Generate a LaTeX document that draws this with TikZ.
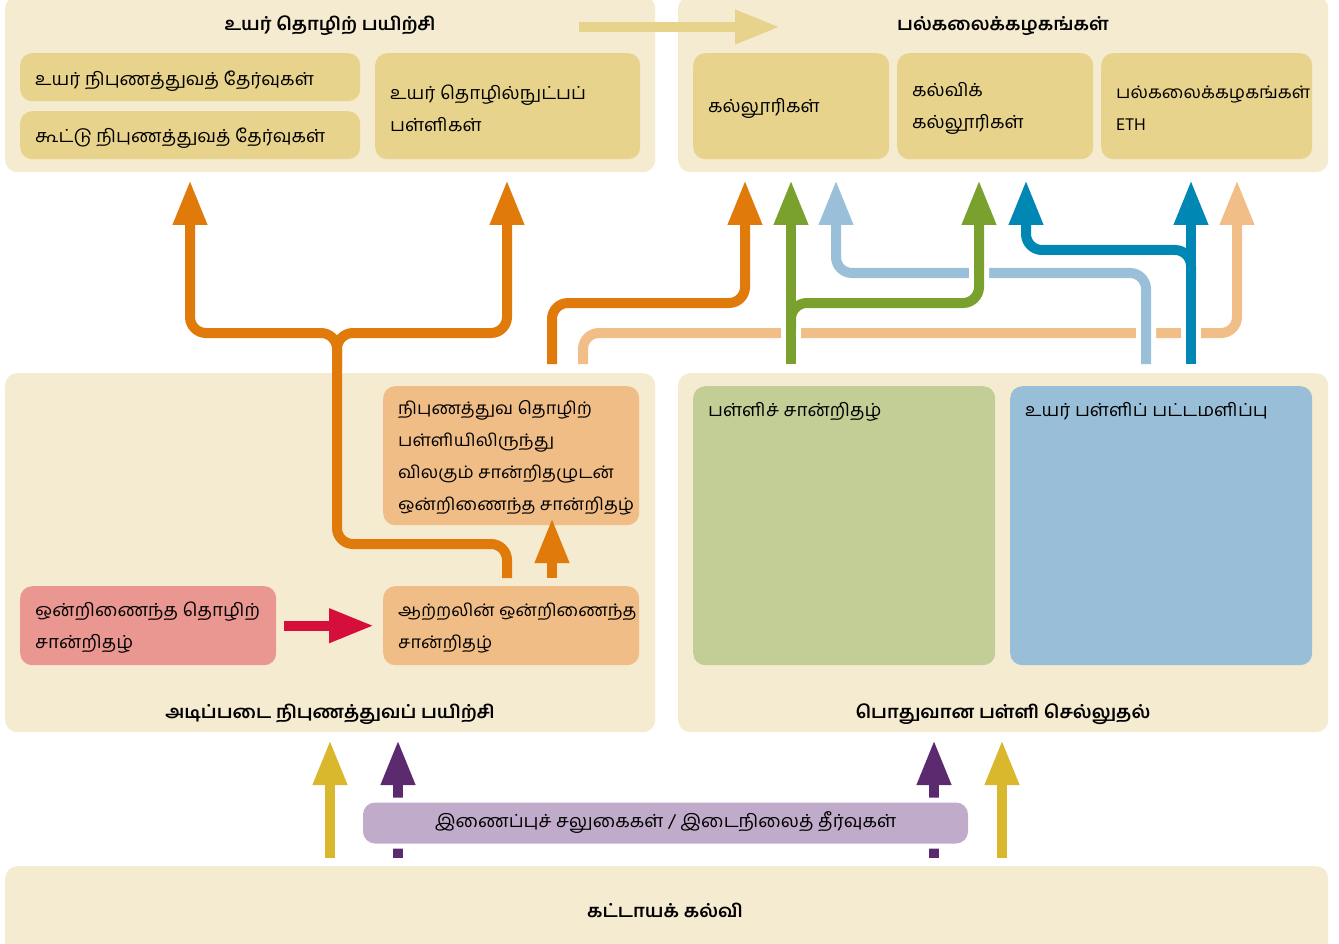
\documentclass[tikz,border=0pt]{standalone}
\usepackage{fontspec}
\setmainfont[Script=Tamil, FakeStretch=1.05]{Hind Madurai}
\usetikzlibrary{arrows.meta}
\definecolor{panelc}{HTML}{F5EBD1}
\definecolor{khaki}{HTML}{E7D38B}
\definecolor{pinkbox}{HTML}{EA9791}
\definecolor{peachbox}{HTML}{F0BD87}
\definecolor{greenbox}{HTML}{C3CD96}
\definecolor{bluebox}{HTML}{99BFD8}
\definecolor{purplebox}{HTML}{C1ABCB}
\definecolor{orangeline}{HTML}{E07B0B}
\definecolor{peachline}{HTML}{F1BE88}
\definecolor{greenline}{HTML}{7AA02E}
\definecolor{lblueline}{HTML}{9AC0D9}
\definecolor{dblueline}{HTML}{0087B3}
\definecolor{crimsonline}{HTML}{D60E3C}
\definecolor{yellowline}{HTML}{D9B82E}
\definecolor{purpleline}{HTML}{5B2A6F}
\newcommand{\boxfont}{\fontsize{18}{32}\selectfont}
\newcommand{\smallboxfont}{\fontsize{17.3}{32}\selectfont}
\newcommand{\ttlfont}{\fontsize{18}{32}\selectfont\bfseries}
\begin{document}
\begin{tikzpicture}[x=1pt,y=-1pt,
  panel/.style={fill=panelc, rounded corners=12pt, anchor=north west, inner sep=0pt},
  box/.style={rounded corners=12pt, anchor=north west, inner sep=0pt},
  txt/.style={inner sep=0pt, font=\boxfont, align=left, anchor=west},
  ttl/.style={font=\ttlfont, inner sep=0pt},
  flow/.style={line width=10pt, rounded corners=16pt},
  tipped/.style={-{Triangle[width=32pt,length=45pt]}},
  casing/.style={white, line width=20pt, rounded corners=16pt},
]
\useasboundingbox (0,0) rectangle (1339,944);
\clip (0,0) rectangle (1339,944);

% panels
\node[panel, minimum width=650pt, minimum height=176pt] (ptl) at (5,-4) {};
\node[panel, minimum width=650pt, minimum height=176pt] (ptr) at (678,-4) {};
\node[panel, minimum width=650pt, minimum height=359pt] (pml) at (5,373) {};
\node[panel, minimum width=650pt, minimum height=359pt] (pmr) at (678,373) {};
\node[panel, minimum width=1323pt, minimum height=100pt] (pbot) at (5,866) {};

% titles
\node[ttl] (t1) at (330,26) {உயர் தொழிற் பயிற்சி};
\node[ttl] (t2) at (1003,26) {பல்கலைக்கழகங்கள்};
\node[ttl] (t3) at (330,714) {அடிப்படை நிபுணத்துவப் பயிற்சி};
\node[ttl] (t4) at (1003,714) {பொதுவான பள்ளி செல்லுதல்};
\node[ttl] (t5) at (665,910) {கட்டாயக் கல்வி};

% top boxes
\node[box, fill=khaki, minimum width=340pt, minimum height=48pt] (hpe) at (20,53) {};
\node[box, fill=khaki, minimum width=340pt, minimum height=48pt] (jpe) at (20,111) {};
\node[box, fill=khaki, minimum width=265pt, minimum height=106pt] (hts) at (375,53) {};
\node[box, fill=khaki, minimum width=196pt, minimum height=106pt] (col) at (693,53) {};
\node[box, fill=khaki, minimum width=196pt, minimum height=106pt] (edc) at (897,53) {};
\node[box, fill=khaki, minimum width=211pt, minimum height=106pt] (uni) at (1101,53) {};
\node[txt] (hpet) at ([shift={(15pt,-4pt)}]hpe.west) {உயர் நிபுணத்துவத் தேர்வுகள்};
\node[txt] (jpet) at ([shift={(15pt,-3pt)}]jpe.west) {கூட்டு நிபுணத்துவத் தேர்வுகள்};
\node[txt] (htst) at ([shift={(15pt,-2pt)}]hts.west) {உயர் தொழில்நுட்பப்\\பள்ளிகள்};
\node[txt] (colt) at ([shift={(15pt,-2pt)}]col.west) {கல்லூரிகள்};
\node[txt] (edct) at ([shift={(15pt,-2pt)}]edc.west) {கல்விக்\\கல்லூரிகள்};
\node[txt, font=\smallboxfont] (unit) at ([shift={(15pt,-2pt)}]uni.west) {பல்கலைக்கழகங்கள்\\ETH};

% middle boxes
\node[box, fill=peachbox, minimum width=256pt, minimum height=139pt] (vsc) at (383,386) {};
\node[box, fill=pinkbox, minimum width=256pt, minimum height=79pt] (ivc) at (20,586) {};
\node[box, fill=peachbox, minimum width=256pt, minimum height=79pt] (aoc) at (383,586) {};
\node[box, fill=greenbox, minimum width=302pt, minimum height=279pt] (scb) at (693,386) {};
\node[box, fill=bluebox, minimum width=302pt, minimum height=279pt] (hsb) at (1010,386) {};
\node[txt, font=\smallboxfont] (vsct) at ([shift={(15pt,-2pt)}]vsc.west) {நிபுணத்துவ தொழிற்\\பள்ளியிலிருந்து\\விலகும் சான்றிதழுடன்\\ஒன்றிணைந்த சான்றிதழ்};
\node[txt] (ivct) at ([shift={(15pt,-2pt)}]ivc.west) {ஒன்றிணைந்த தொழிற்\\சான்றிதழ்};
\node[txt, font=\smallboxfont] (aoct) at ([shift={(15pt,-2pt)}]aoc.west) {ஆற்றலின் ஒன்றிணைந்த\\சான்றிதழ்};
\node[txt, anchor=base west] (scl) at ([shift={(15pt,-30pt)}]scb.north west) {பள்ளிச் சான்றிதழ்};
\node[txt, anchor=base west] (hsl) at ([shift={(15pt,-30pt)}]hsb.north west) {உயர் பள்ளிப் பட்டமளிப்பு};

% top arrow between panels
\coordinate (ka) at (579,27);
\coordinate (kb) at (780,27);
\draw[khaki, line width=10pt, tipped] (ka) -- (kb);

% red arrow
\draw[crimsonline, line width=10pt, tipped] ([xshift=8pt]ivc.east) -- ([xshift=-9pt]aoc.west);

% short orange arrow
\coordinate (sa) at (552,578);
\coordinate (sb) at (552,518);
\draw[orangeline, line width=10pt, tipped] (sa) -- (sb);

% big orange split
\coordinate (o1s) at (507,578);
\coordinate (o1l) at (190,180);
\coordinate (o1r) at (507,180);
\draw[flow, orangeline, tipped] (o1s) -- (507,544) -- (337,544) -- (337,333) -- (190,333) -- (o1l);
\draw[flow, orangeline, tipped] (337,370) -- (337,333) -- (507,333) -- (o1r);

% orange to colleges
\coordinate (o2s) at (552,364);
\coordinate (o2e) at (745,180);
\draw[flow, orangeline, tipped] (o2s) -- (552,303) -- (745,303) -- (o2e);

% light orange to universities
\coordinate (p1s) at (583,364);
\coordinate (p1e) at (1237,180);
\draw[flow, peachline, tipped] (p1s) -- (583,333) -- (1237,333) -- (p1e);

% light blue
\coordinate (l1s) at (1146,364);
\coordinate (l1e) at (836,180);
\draw[casing] (1146,364) -- (1146,273) -- (836,273) -- (836,224);
\draw[flow, lblueline, tipped] (l1s) -- (1146,273) -- (836,273) -- (l1e);

% green
\coordinate (g1s) at (791,364);
\coordinate (g1e) at (791,180);
\coordinate (g2e) at (979,180);
\draw[casing] (791,364) -- (791,224);
\draw[casing] (791,330) -- (791,303) -- (979,303) -- (979,224);
\draw[flow, greenline, tipped] (g1s) -- (g1e);
\draw[flow, greenline, tipped] (791,330) -- (791,303) -- (979,303) -- (g2e);

% dark blue
\coordinate (d1s) at (1191,364);
\coordinate (d1e) at (1191,180);
\coordinate (d2e) at (1026,180);
\draw[casing] (1191,364) -- (1191,224);
\draw[flow, dblueline, tipped] (d1s) -- (d1e);
\draw[flow, dblueline, tipped] (1191,280) -- (1191,250) -- (1026,250) -- (d2e);

% bottom arrows
\coordinate (y1s) at (330,858); \coordinate (y1e) at (330,740);
\coordinate (y2s) at (1002,858); \coordinate (y2e) at (1002,740);
\coordinate (v1s) at (398,858); \coordinate (v1e) at (398,740);
\coordinate (v2s) at (934,858); \coordinate (v2e) at (934,740);
\draw[yellowline, line width=10pt, tipped] (y1s) -- (y1e);
\draw[yellowline, line width=10pt, tipped] (y2s) -- (y2e);
\draw[purpleline, line width=10pt, tipped] (v1s) -- (v1e);
\draw[purpleline, line width=10pt, tipped] (v2s) -- (v2e);

% purple bridge box
\node[rounded corners=12pt, fill=purplebox, preaction={draw=white, line width=10pt}, minimum width=605pt, minimum height=41pt, inner sep=0pt, font=\boxfont] (bridge) at (665.5,823) {இணைப்புச் சலுகைகள் / இடைநிலைத் தீர்வுகள்};
\end{tikzpicture}
\end{document}
